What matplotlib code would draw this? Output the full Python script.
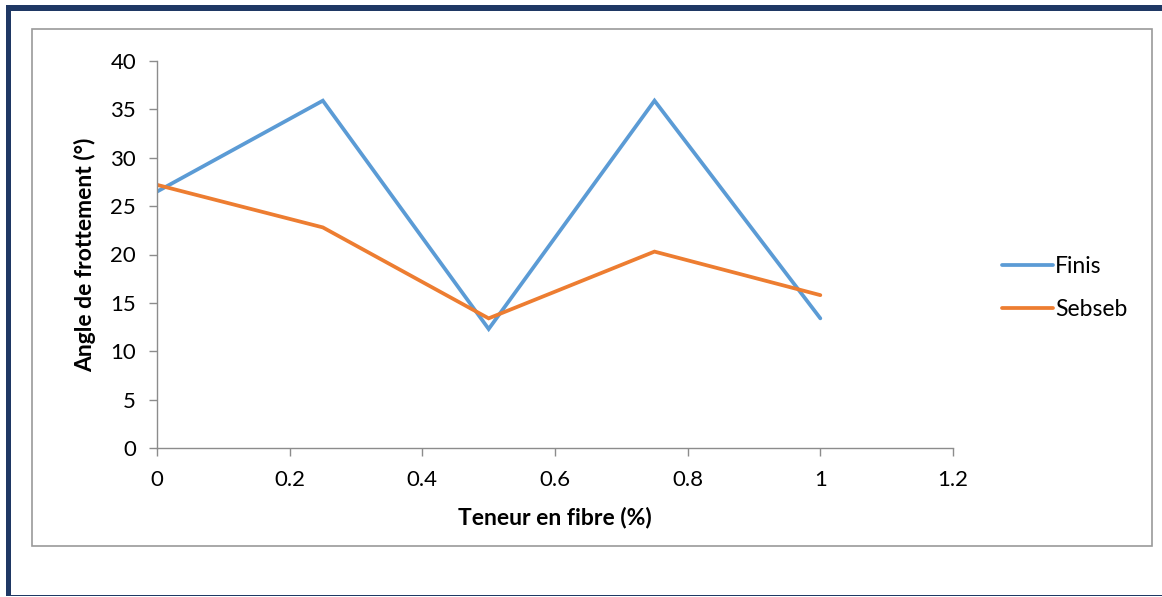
import matplotlib
matplotlib.use("Agg")
import matplotlib.pyplot as plt
from matplotlib.patches import Rectangle

# Fibre content (%) and friction angle (°) for the two fibre types
fibre_content = [0, 0.25, 0.5, 0.75, 1]
finis = [26.5, 35.9, 12.3, 35.9, 13.4]
sebseb = [27.2, 22.8, 13.4, 20.3, 15.8]

x_ticks = [0, 0.2, 0.4, 0.6, 0.8, 1, 1.2]
x_tick_labels = ["0", "0.2", "0.4", "0.6", "0.8", "1", "1.2"]
y_ticks = [0, 5, 10, 15, 20, 25, 30, 35, 40]

plt.rcParams["font.family"] = ["Lato", "DejaVu Sans"]

W, H = 1162, 597
fig = plt.figure(figsize=(W / 100, H / 100), dpi=100)
fig.patch.set_facecolor("white")

def px_rect(x0, y0, x1, y1, **kw):
    """Rectangle given in pixel coordinates (origin top-left)."""
    r = Rectangle((x0 / W, 1 - y1 / H), (x1 - x0) / W, (y1 - y0) / H,
                  transform=fig.transFigure, **kw)
    fig.add_artist(r)
    return r

navy = "#1F3864"
# Outer frame: thick top and left bars, thin bottom rule
px_rect(6, 5, W, 11, facecolor=navy, edgecolor="none")
px_rect(6, 5, 11, 596, facecolor=navy, edgecolor="none")
px_rect(11, 594.5, W, 596, facecolor=navy, edgecolor="none")
# Chart area border
px_rect(31.5, 29, 1152, 546, facecolor="none", edgecolor="#9A9A9A", linewidth=1.2)

ax = fig.add_axes([157 / W, 1 - 448 / H, (953 - 157) / W, (448 - 61) / H])
ax.set_facecolor("none")

ax.plot(fibre_content, finis, color="#5B9BD5", linewidth=2.7, label="Finis",
        solid_capstyle="round", solid_joinstyle="miter")
ax.plot(fibre_content, sebseb, color="#ED7D31", linewidth=2.7, label="Sebseb",
        solid_capstyle="round", solid_joinstyle="miter")

ax.set_xlim(0, 1.2)
ax.set_ylim(0, 40)
ax.set_xticks(x_ticks)
ax.set_xticklabels(x_tick_labels)
ax.set_yticks(y_ticks)

for side in ("top", "right"):
    ax.spines[side].set_visible(False)
for side in ("left", "bottom"):
    ax.spines[side].set_color("#8C8C8C")
    ax.spines[side].set_linewidth(1.0)

ax.tick_params(axis="both", direction="out", length=6, width=1.0,
               color="#8C8C8C", labelsize=16, labelcolor="black")
ax.tick_params(axis="y", pad=9)
ax.tick_params(axis="x", pad=10)

ax.set_xlabel("Teneur en fibre (%)", fontsize=16.5, fontweight="bold", labelpad=12)
ax.set_ylabel("Angle de frottement (°)", fontsize=16.5, fontweight="bold", labelpad=10)

leg = ax.legend(loc="center left", bbox_to_anchor=(991 / W, 1 - 288 / H),
                bbox_transform=fig.transFigure, frameon=False, fontsize=16.5,
                handlelength=2.2, handletextpad=0.1, labelspacing=1.0,
                borderpad=0)

fig.savefig("out.png", dpi=100, facecolor="white")
